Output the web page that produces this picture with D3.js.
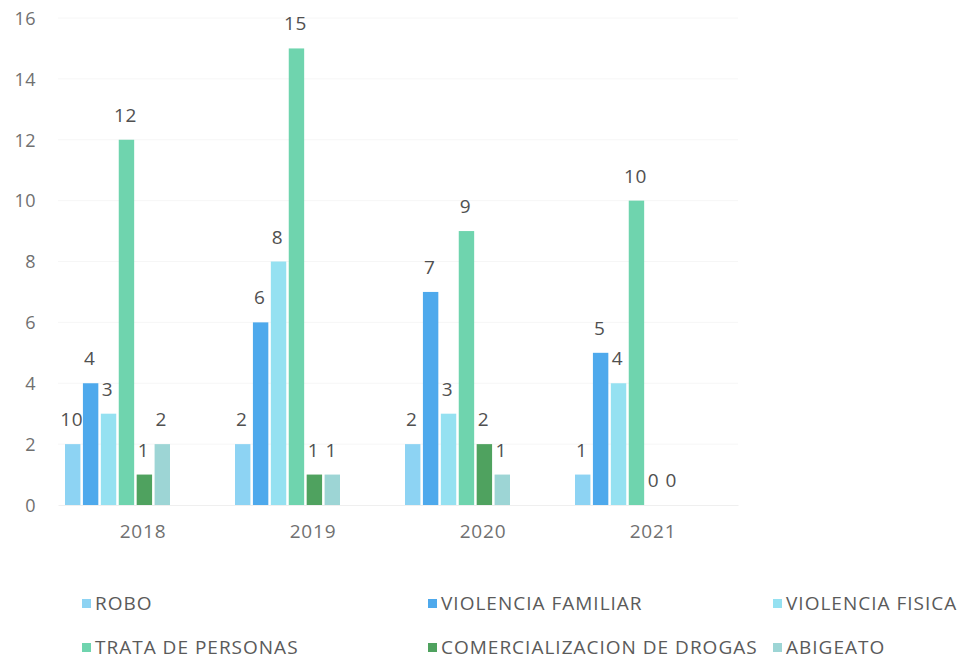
<!DOCTYPE html>
<html>
<head>
<meta charset="utf-8">
<script src="https://cdn.jsdelivr.net/npm/d3@7"></script>
<style>
  body { margin: 0; background: #fff; }
  svg { display: block; }
</style>
</head>
<body>
<div id="chart"></div>
<script>
// datos
var years = ["2018", "2019", "2020", "2021"];
var seriesNames = ["ROBO", "VIOLENCIA FAMILIAR", "VIOLENCIA FISICA", "TRATA DE PERSONAS", "COMERCIALIZACION DE DROGAS", "ABIGEATO"];
var robo = [2, 2, 2, 1];
var violenciaFamiliar = [4, 6, 7, 5];
var violenciaFisica = [3, 8, 3, 4];
var trata = [12, 15, 9, 10];
var drogas = [1, 1, 2, 0];
var abigeato = [2, 1, 1, 0];
var yTicks = [0, 2, 4, 6, 8, 10, 12, 14, 16];
// etiqueta tal como aparece en el original
var labelOverride = { "ROBO|2018": "10" };

var colors = ["#8dd3f3", "#4ea9ec", "#95e1f1", "#6fd4ae", "#4fa25f", "#9dd5d5"];
var values = [robo, violenciaFamiliar, violenciaFisica, trata, drogas, abigeato];

var width = 963, height = 659;
var plotLeft = 58, plotRight = 738, baseY = 505, topY = 18;

var svg = d3.select("#chart").append("svg")
  .attr("width", width)
  .attr("height", height);

var x0 = d3.scaleBand().domain(years).range([plotLeft, plotRight]);
var x1 = d3.scaleBand().domain(seriesNames).range([7, 112]).paddingInner(0.14);
var y = d3.scaleLinear().domain([0, 16]).range([baseY, topY]);

// lineas de cuadricula
svg.append("g")
  .selectAll("line")
  .data(yTicks.slice(1))
  .enter().append("line")
  .attr("x1", plotLeft).attr("x2", plotRight)
  .attr("y1", function (d) { return y(d); })
  .attr("y2", function (d) { return y(d); })
  .attr("stroke", "#f6f6f6");

// eje y
var yAxis = d3.axisLeft(y).tickValues(yTicks).tickSize(0).tickPadding(0);
var gy = svg.append("g")
  .attr("transform", "translate(36,0)")
  .call(yAxis);
gy.select(".domain").remove();
gy.selectAll("text")
  .attr("font-family", "Open Sans")
  .attr("font-size", "18px")
  .attr("letter-spacing", "0.5px")
  .attr("fill", "#707070")
  .attr("dy", "0.35em");

// eje x
var xAxis = d3.axisBottom(x0).tickSize(0).tickPadding(0);
var gx = svg.append("g")
  .attr("transform", "translate(0," + baseY + ")")
  .call(xAxis);
gx.select(".domain").attr("stroke", "#efefef");
gx.selectAll("text")
  .attr("font-family", "Open Sans")
  .attr("font-size", "19px")
  .attr("letter-spacing", "0.8px")
  .attr("fill", "#707070")
  .attr("y", 20);

// datos en forma de tabla
var rows = [];
years.forEach(function (yr, i) {
  seriesNames.forEach(function (s, j) {
    rows.push({ year: yr, serie: s, value: values[j][i], color: colors[j] });
  });
});

// barras
svg.append("g")
  .selectAll("rect")
  .data(rows)
  .enter().append("rect")
  .attr("x", function (d) { return x0(d.year) + x1(d.serie); })
  .attr("y", function (d) { return y(d.value); })
  .attr("width", x1.bandwidth())
  .attr("height", function (d) { return baseY - y(d.value); })
  .attr("fill", function (d) { return d.color; });

// etiquetas
svg.append("g")
  .selectAll("text")
  .data(rows)
  .enter().append("text")
  .text(function (d) {
    var k = d.serie + "|" + d.year;
    return labelOverride[k] !== undefined ? labelOverride[k] : d.value;
  })
  .attr("x", function (d) { return x0(d.year) + x1(d.serie) + x1.bandwidth() / 2 - 1; })
  .attr("y", function (d) { return y(d.value) - 18; })
  .attr("font-family", "Open Sans")
  .attr("font-size", "19px")
  .attr("letter-spacing", "0.5px")
  .attr("fill", "#505050")
  .attr("text-anchor", "middle");

// leyenda
var legendCols = [82, 428, 773];
var legendRows = [603, 647];
var legend = svg.append("g")
  .selectAll("g")
  .data(seriesNames)
  .enter().append("g")
  .attr("transform", function (d, i) {
    return "translate(" + legendCols[i % 3] + "," + legendRows[Math.floor(i / 3)] + ")";
  });
legend.append("rect")
  .attr("x", 0).attr("y", -4)
  .attr("width", 9).attr("height", 9)
  .attr("fill", function (d, i) { return colors[i]; });
legend.append("text")
  .text(function (d) { return d; })
  .attr("x", 13)
  .attr("dy", "0.35em")
  .attr("font-family", "Open Sans")
  .attr("font-size", "19px")
  .attr("letter-spacing", "1px")
  .attr("fill", "#5a5a5a");
</script>
</body>
</html>
